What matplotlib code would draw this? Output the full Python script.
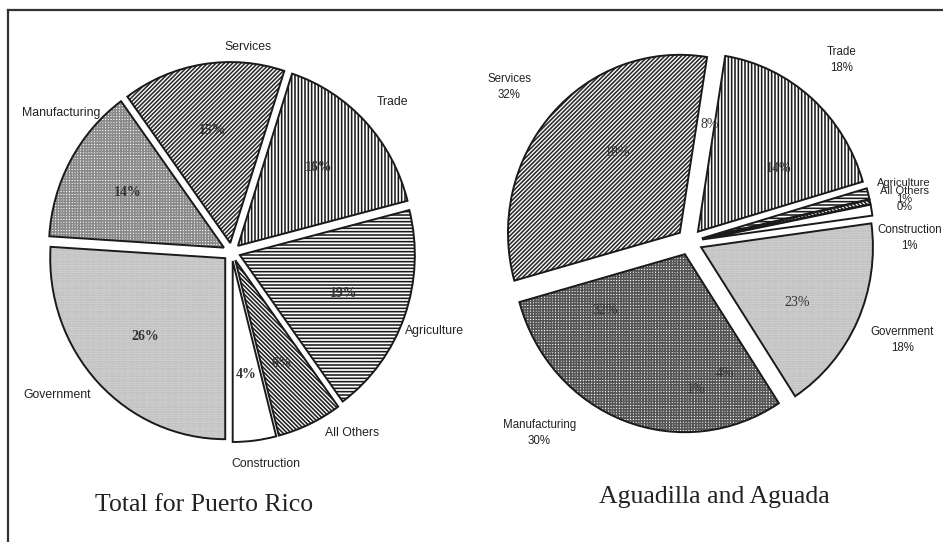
import matplotlib
matplotlib.use("Agg")
import matplotlib.pyplot as plt
from matplotlib.lines import Line2D

# ---------------- data ----------------
left_categories = ["Services", "Trade", "Agriculture", "All Others",
                   "Construction", "Government", "Manufacturing"]
left_values = [15, 16, 19, 6, 4, 26, 14]
left_inner = ["15%", "16%", "19%", "6%", "4%", "26%", "14%"]
left_title = "Total for Puerto Rico"

right_categories = ["Services", "Trade", "Agriculture", "All Others",
                    "Construction", "Government", "Manufacturing"]
right_values = [32, 18, 1, 0.4, 1, 18, 30]
right_pct = ["32%", "18%", "1%", "0%", "1%", "18%", "30%"]
right_title = "Aguadilla and Aguada"
# stray labels printed inside the right pie in the original
right_stray = ["18%", "8%", "14%", "23%", "32%", "4%", "1%"]

# ---------------- styles ----------------
W, H = 943, 542
plt.rcParams['hatch.linewidth'] = 1.15

hatches = ["/" * 8, "|" * 5, "-" * 5, "\\" * 8, "", "." * 7, "+" * 6]
faces = ["white", "white", "white", "white", "white", "#dcdcdc", "white"]
hatch_cols_left = ["#2a2a2a", "#1a1a1a", "#1a1a1a", "#202020", "white", "#b0b0b0", "#8a8a8a"]
hatch_cols_right = ["#2a2a2a", "#1a1a1a", "#1a1a1a", "#202020", "white", "#b0b0b0", "#555555"]

left_label_pos = [(0.094, 1.13), (0.917, 0.83), (1.162, -0.436), (0.688, -1.0),
                  (0.197, -1.171), (-0.998, -0.79), (-0.975, 0.768)]
right_label_pos = {"Services": (-1.05, 0.869), "Trade": (0.884, 1.02),
                   "Construction": (1.28, 0.02), "Government": (1.24, -0.55),
                   "Manufacturing": (-0.874, -1.075)}
right_small_pos = (1.25, 0.262)   # stacked Agriculture / All Others label
right_stray_pos = [(-0.42, 0.50), (0.12, 0.66), (0.516, 0.41), (0.625, -0.34),
                   (-0.49, -0.385), (0.207, -0.74), (0.04, -0.83)]

fig = plt.figure(figsize=(W / 100, H / 100), dpi=100)
fig.patch.set_facecolor("white")

L = 1.35


def pie_axes(cx, cy, rx, ry):
    return fig.add_axes([(cx - L * rx) / W, (H - cy - L * ry) / H,
                         2 * L * rx / W, 2 * L * ry / H])


def draw_pie(ax, values, start, explode, hatch_cols, autopct=None, pctdist=0.62):
    exp = [explode] * len(values)
    kw = {}
    if autopct is not None:
        kw = dict(autopct=autopct, pctdistance=pctdist,
                  textprops=dict(family="Liberation Serif", fontsize=10,
                                 fontweight="bold", color="#333333"))
    res = ax.pie(values, explode=exp, startangle=start, counterclock=False,
                 colors=faces, hatch=hatches, **kw)
    for w, hc in zip(res[0], hatch_cols):
        w.set_edgecolor(hc)
        w.set_linewidth(0)
    ax.pie(values, explode=exp, startangle=start, counterclock=False,
           wedgeprops=dict(fill=False, edgecolor="#1a1a1a", linewidth=1.4))
    ax.set_xlim(-L, L)
    ax.set_ylim(-L, L)
    ax.set_aspect("auto")
    ax.axis("off")
    return res


# ---- left pie ----
axl = pie_axes(231.6, 252, 175, 181)
it_l = iter(left_inner)
draw_pie(axl, left_values, 126, 0.05, hatch_cols_left,
         autopct=lambda p: next(it_l), pctdist=0.63)
for name, (x, y) in zip(left_categories, left_label_pos):
    axl.text(x, y, name, ha="center", va="center", fontsize=8.8,
             family="Liberation Sans", color="#222222")

# ---- right pie ----
axr = pie_axes(689.4, 241.7, 171.8, 178)
draw_pie(axr, right_values, 195.6, 0.075, hatch_cols_right)
small = []
for name, pct in zip(right_categories, right_pct):
    if name in right_label_pos:
        x, y = right_label_pos[name]
        axr.text(x, y, name + "\n" + pct, ha="center", va="center", fontsize=8.3,
                 family="Liberation Sans", color="#222222", linespacing=1.45)
    else:
        small.append((name, pct))
stack = "\n".join([n for n, _ in small] + [p for _, p in small])
axr.text(right_small_pos[0], right_small_pos[1], stack, ha="center", va="center",
         fontsize=8.0, family="Liberation Sans", color="#222222", linespacing=0.78)
for s, (x, y) in zip(right_stray, right_stray_pos):
    axr.text(x, y, s, ha="center", va="center", fontsize=10,
             family="Liberation Serif", color="#333333")

# ---- titles ----
fig.text(204 / W, 1 - 505 / H, left_title, ha="center", va="center",
         fontsize=18.5, family="Liberation Serif", color="#222222")
fig.text(714 / W, 1 - 497 / H, right_title, ha="center", va="center",
         fontsize=18.5, family="Liberation Serif", color="#222222")

# ---- frame lines ----
fig.add_artist(Line2D([8 / W, 1], [1 - 10 / H, 1 - 10 / H], color="#333333", lw=1.6))
fig.add_artist(Line2D([8 / W, 8 / W], [0, 1 - 10 / H], color="#333333", lw=1.6))

fig.savefig("out.png", dpi=100, facecolor="white")
